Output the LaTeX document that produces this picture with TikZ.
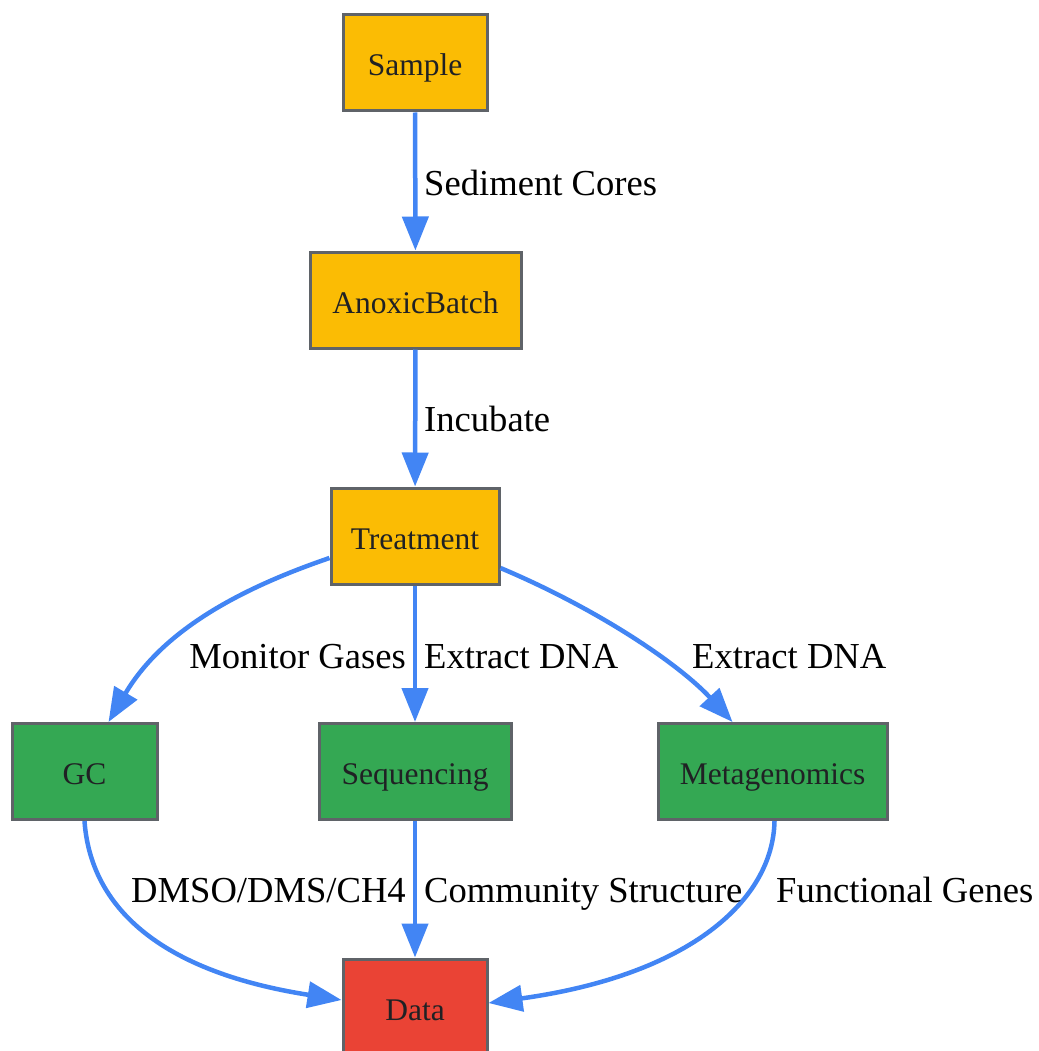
\documentclass[tikz,border=0pt]{standalone}
\usepackage{fontspec}
\setmainfont{Liberation Serif}
\usetikzlibrary{arrows.meta}
\definecolor{gyellow}{HTML}{FBBC04}
\definecolor{ggreen}{HTML}{34A853}
\definecolor{gred}{HTML}{EA4335}
\definecolor{gblue}{HTML}{4285F4}
\definecolor{ggray}{HTML}{5F6368}
\definecolor{gtext}{HTML}{202124}
\begin{document}
\begin{tikzpicture}[x=1pt,y=-1pt,
  box/.style={draw=ggray,line width=3pt,minimum height=96pt,inner sep=0pt,
    text height=26pt,text depth=0pt,
    text=gtext,font=\fontsize{31.5}{36}\selectfont},
  flow/.style={draw=gblue,line width=4.5pt,-{Triangle[length=34pt,width=26pt]}},
  lbl/.style={inner sep=0pt,font=\fontsize{36.6}{42}\selectfont}]
\useasboundingbox (0,0) rectangle (1038,1051);
% nodes
\node[box,fill=gyellow,minimum width=144pt] (sample) at (415,63) {Sample};
\node[box,fill=gyellow,minimum width=211pt] (batch) at (415.5,300) {AnoxicBatch};
\node[box,fill=gyellow,minimum width=168pt] (trt) at (415,536) {Treatment};
\node[box,fill=ggreen,minimum width=145pt] (gc) at (84.5,771.5) {GC};
\node[box,fill=ggreen,minimum width=192pt] (seq) at (415,771.5) {Sequencing};
\node[box,fill=ggreen,minimum width=229pt] (meta) at (772.5,771.5) {Metagenomics};
\node[box,fill=gred,minimum width=144pt] (data) at (415,1007) {Data};
% edges
\draw[flow] (sample) -- (batch);
\draw[flow] (batch) -- (trt);
\draw[flow] ([yshift=-22pt]trt.west) .. controls (230,592) and (160,635) .. ([xshift=24pt]gc.north);
\draw[flow] (trt) -- (seq);
\draw[flow] ([yshift=-32pt]trt.east) .. controls (600,610) and (680,665) .. ([xshift=-40pt]meta.north);
\draw[flow] (gc.south) .. controls (90,900) and (150,970) .. ([yshift=7pt]data.west);
\draw[flow] (seq) -- (data);
\draw[flow] ([xshift=2pt]meta.south) .. controls (773,900) and (690,975) .. ([yshift=4pt]data.east);
% edge labels
\node[lbl,anchor=base west] (l1) at (424,196) {Sediment Cores};
\node[lbl,anchor=base west] (l2) at (424,431) {Incubate};
\node[lbl,anchor=base east] (l3) at (406,668) {Monitor Gases};
\node[lbl,anchor=base west] (l4) at (424,668) {Extract DNA};
\node[lbl,anchor=base west] (l5) at (692,668) {Extract DNA};
\node[lbl,anchor=base east] (l6) at (406,902) {DMSO/DMS/CH4};
\node[lbl,anchor=base west] (l7) at (424,902) {Community Structure};
\node[lbl,anchor=base west] (l8) at (776,902) {Functional Genes};
\end{tikzpicture}
\end{document}
